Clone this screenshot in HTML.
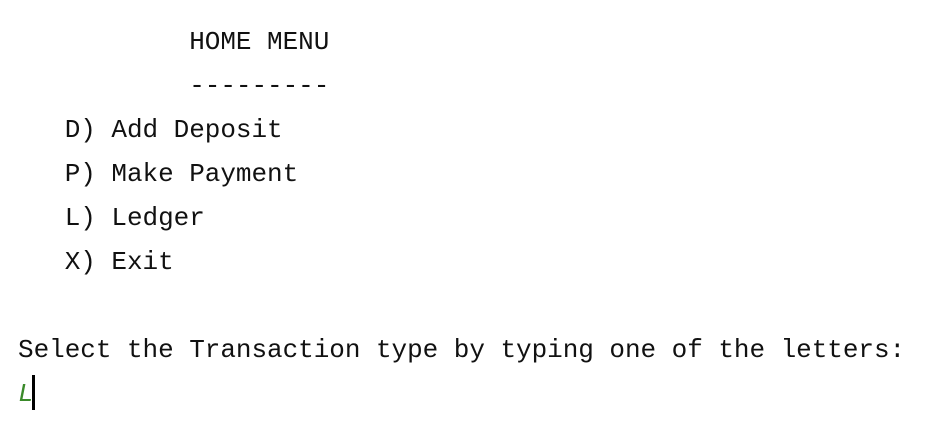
<!DOCTYPE html>
<html><head><style>
html,body{margin:0;padding:0;background:#fff;width:950px;height:440px;overflow:hidden}
pre{position:absolute;left:18px;top:20px;margin:0;font-family:"Liberation Mono",monospace;font-size:26px;line-height:44px;color:#111;letter-spacing:-0.04px}
.g{color:#3a8a2a;font-style:italic}
.c{position:absolute;left:32px;top:375px;width:3px;height:35px;background:#000}
</style></head><body>
<pre>           HOME MENU
           ---------
   D) Add Deposit
   P) Make Payment
   L) Ledger
   X) Exit

Select the Transaction type by typing one of the letters:
<span class="g">L</span></pre>
<div class="c"></div>
</body></html>
